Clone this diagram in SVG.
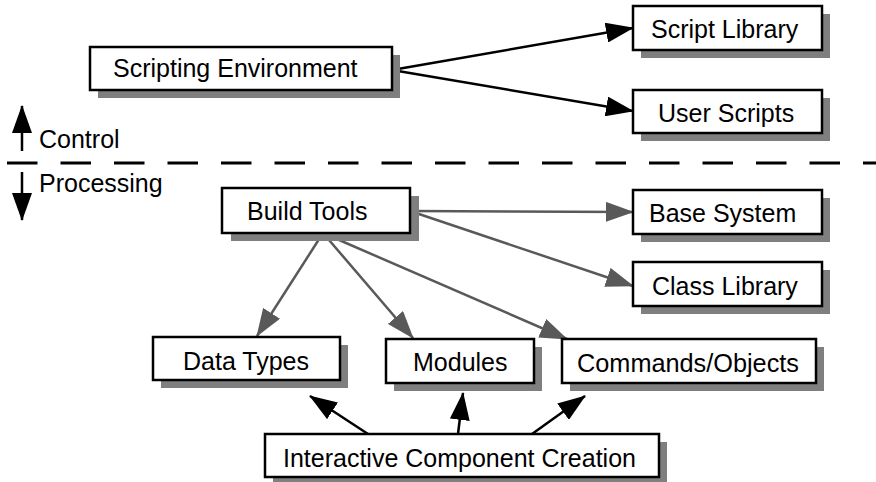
<svg xmlns="http://www.w3.org/2000/svg" width="876" height="482" viewBox="0 0 876 482">
  <style>
    .box { fill: #ffffff; stroke: #000000; stroke-width: 2.5; }
    .shadow { fill: #7f7f7f; stroke: none; }
    .label { font-family: "Liberation Sans", Arial, sans-serif; font-size: 25px; fill: #000000; }
    .ctl { stroke: #000000; stroke-width: 2.5; fill: none; }
    .proc { stroke: #595959; stroke-width: 2.5; fill: none; }
    .divider { stroke: #000000; stroke-width: 3; stroke-dasharray: 30.5 23; fill: none; }
  </style>
  <defs>
    <marker id="headBlack" markerUnits="userSpaceOnUse" markerWidth="28" markerHeight="20" refX="27" refY="10" orient="auto">
      <path d="M0,0 L28,10 L0,20 z" fill="#000000"/>
    </marker>
    <marker id="headGray" markerUnits="userSpaceOnUse" markerWidth="28" markerHeight="20" refX="27" refY="10" orient="auto">
      <path d="M0,0 L28,10 L0,20 z" fill="#595959"/>
    </marker>
  </defs>

  <!-- layer divider and direction legend -->
  <g id="legend">
    <line class="divider" x1="7" y1="163" x2="876" y2="163"/>
    <line class="ctl" x1="22" y1="151" x2="22" y2="106" marker-end="url(#headBlack)"/>
    <text class="label" x="39" y="148">Control</text>
    <line class="ctl" x1="22" y1="172" x2="22" y2="220" marker-end="url(#headBlack)"/>
    <text class="label" x="39" y="192">Processing</text>
  </g>

  <!-- connectors -->
  <g id="connectors">
    <line class="ctl" x1="392" y1="70" x2="633" y2="28" marker-end="url(#headBlack)"/>
    <line class="ctl" x1="392" y1="70" x2="633" y2="111" marker-end="url(#headBlack)"/>
    <line class="proc" x1="410" y1="211" x2="633" y2="212" marker-end="url(#headGray)"/>
    <line class="proc" x1="410" y1="211" x2="633" y2="286" marker-end="url(#headGray)"/>
    <line class="proc" x1="323" y1="233" x2="257" y2="336" marker-end="url(#headGray)"/>
    <line class="proc" x1="323" y1="233" x2="413" y2="338" marker-end="url(#headGray)"/>
    <line class="proc" x1="323" y1="233" x2="567" y2="339" marker-end="url(#headGray)"/>
    <line class="ctl" x1="368" y1="434" x2="310" y2="396" marker-end="url(#headBlack)"/>
    <line class="ctl" x1="458" y1="434" x2="463" y2="393" marker-end="url(#headBlack)"/>
    <line class="ctl" x1="532" y1="434" x2="585" y2="396" marker-end="url(#headBlack)"/>
  </g>

  <g id="scripting-environment">
    <rect class="shadow" x="98" y="55" width="302" height="43"/>
    <rect class="box" x="90" y="47" width="302" height="43"/>
    <text class="label" x="113" y="77">Scripting Environment</text>
  </g>
  <g id="script-library">
    <rect class="shadow" x="641" y="14" width="189" height="44"/>
    <rect class="box" x="633" y="6" width="189" height="44"/>
    <text class="label" x="651" y="38">Script Library</text>
  </g>
  <g id="user-scripts">
    <rect class="shadow" x="641" y="98" width="189" height="43"/>
    <rect class="box" x="633" y="90" width="189" height="43"/>
    <text class="label" x="658" y="122">User Scripts</text>
  </g>
  <g id="build-tools">
    <rect class="shadow" x="231" y="196" width="188" height="45"/>
    <rect class="box" x="222" y="188" width="188" height="45"/>
    <text class="label" x="247" y="220">Build Tools</text>
  </g>
  <g id="base-system">
    <rect class="shadow" x="641" y="198" width="189" height="44"/>
    <rect class="box" x="633" y="190" width="189" height="44"/>
    <text class="label" x="649" y="222">Base System</text>
  </g>
  <g id="class-library">
    <rect class="shadow" x="641" y="270" width="189" height="44"/>
    <rect class="box" x="633" y="262" width="189" height="44"/>
    <text class="label" x="652" y="295">Class Library</text>
  </g>
  <g id="data-types">
    <rect class="shadow" x="161" y="345" width="187" height="43"/>
    <rect class="box" x="153" y="337" width="187" height="43"/>
    <text class="label" x="183" y="370">Data Types</text>
  </g>
  <g id="modules">
    <rect class="shadow" x="394" y="347" width="148" height="44"/>
    <rect class="box" x="386" y="339" width="148" height="44"/>
    <text class="label" x="413" y="371">Modules</text>
  </g>
  <g id="commands-objects">
    <rect class="shadow" x="570" y="347" width="254" height="44"/>
    <rect class="box" x="562" y="339" width="254" height="44"/>
    <text class="label" x="577" y="372" textLength="222" lengthAdjust="spacingAndGlyphs">Commands/Objects</text>
  </g>
  <g id="interactive-component-creation">
    <rect class="shadow" x="273" y="442" width="394" height="43"/>
    <rect class="box" x="265" y="434" width="394" height="43"/>
    <text class="label" x="283" y="467">Interactive Component Creation</text>
  </g>
</svg>
